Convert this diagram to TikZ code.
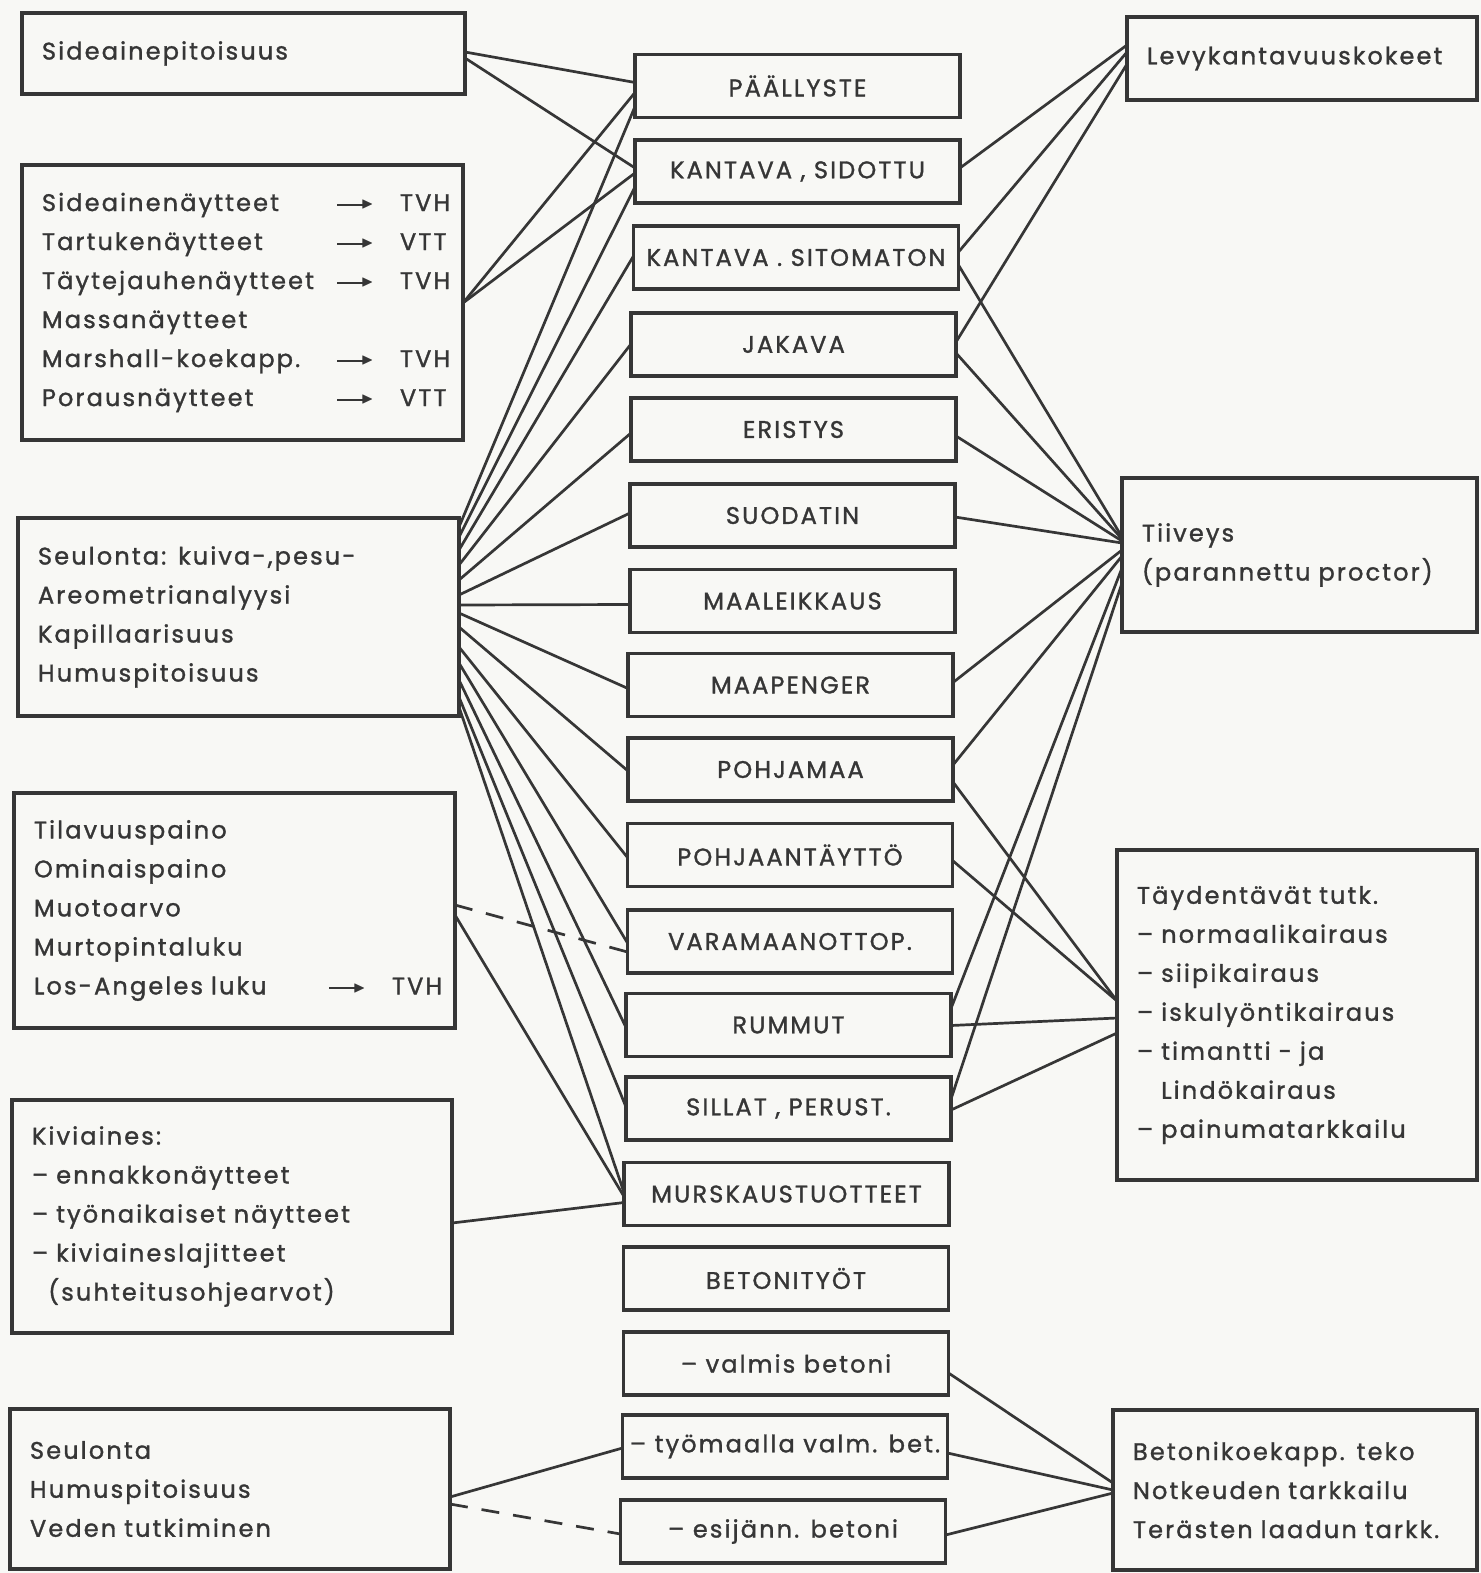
\documentclass[tikz,border=0pt]{standalone}
\usepackage{amssymb}
\usepackage{fontspec}
\setmainfont{Poppins}[LetterSpace=9, FakeBold=1.3]
\usetikzlibrary{calc}
\definecolor{ink}{HTML}{363636}
\definecolor{paper}{HTML}{F8F8F5}
\newcommand\myconn[5][link]{\draw[#1] ($(#2.north east)+(0,#3)$) -- ($(#4.north west)+(0,#5)$);}
\newcommand\tarrow{\raisebox{2.5pt}{\rule{15pt}{1.1pt}}\kern-3pt\raisebox{1.2pt}{\fontsize{8}{8}\selectfont$\blacktriangleright$}}
\newcommand\trow[3]{\makebox[147.5pt][l]{#1}\makebox[31.5pt][l]{#2}#3}
\begin{document}
\begin{tikzpicture}[x=0.5pt,y=-0.5pt,
  box/.style={draw=ink, line width=1.7pt, inner sep=0pt, outer sep=0pt, text=ink,
    font=\fontsize{12}{19.5}\selectfont},
  cbox/.style={box, minimum width=162.5pt, minimum height=31.5pt},
  lbox/.style 2 args={box, align=left, inner xsep=10pt, text width=#1, minimum height=#2},
  link/.style={draw=ink, line width=1.35pt},
  dlink/.style={link, dash pattern=on 9pt off 7pt}]
\useasboundingbox (0,0) rectangle (1481,1573);
\fill[paper] (0,0) rectangle (1481,1573);

% left column
\node[lbox={201.5pt}{40.5pt}] (L1) at (243.5,53.5) {Sideainepitoisuus};
\node[lbox={200.5pt}{137.5pt}] (L2) at (242.5,302.5) {%
\trow{Sideainenäytteet}{\tarrow}{TVH}\\
\trow{Tartukenäytteet}{\tarrow}{VTT}\\
\trow{Täytejauhenäytteet}{\tarrow}{TVH}\\
\trow{Massanäytteet}{}{}\\
\trow{Marshall-koekapp.}{\tarrow}{TVH}\\
\trow{Porausnäytteet}{\tarrow}{VTT}};
\node[lbox={200.5pt}{99pt}] (L3) at (238.5,617) {Seulonta: kuiva-,pesu-\\Areometrianalyysi\\Kapillaarisuus\\Humuspitoisuus};
\node[lbox={200.5pt}{117.5pt}] (L4) at (234.5,910.5) {Tilavuuspaino\\Ominaispaino\\Muotoarvo\\Murtopintaluku\\
\trow{Los-Angeles luku}{\tarrow}{TVH}};
\node[lbox={200pt}{116.5pt}] (L5) at (232,1216.5) {Kiviaines:\\– ennakkonäytteet\\– työnaikaiset näytteet\\– kiviaineslajitteet\\\phantom{–}(suhteitusohjearvot)};
\node[lbox={200pt}{80pt}] (L6) at (230,1489) {Seulonta\\Humuspitoisuus\\Veden tutkiminen};

% centre column
\node[cbox] (C1) at (797.5,86) {PÄÄLLYSTE};
\node[cbox] (C2) at (797.5,171.5) {KANTAVA , SIDOTTU};
\node[cbox] (C3) at (796,257.5) {KANTAVA . SITOMATON};
\node[cbox] (C4) at (793.5,344.5) {JAKAVA};
\node[cbox] (C5) at (793.5,429.5) {ERISTYS};
\node[cbox] (C6) at (792.5,515.5) {SUODATIN};
\node[cbox] (C7) at (792.5,601) {MAALEIKKAUS};
\node[cbox] (C8) at (790.5,685) {MAAPENGER};
\node[cbox] (C9) at (790.5,769.5) {POHJAMAA};
\node[cbox] (C10) at (790,855) {POHJAANTÄYTTÖ};
\node[cbox] (C11) at (790,941.5) {VARAMAANOTTOP.};
\node[cbox] (C12) at (788.5,1025) {RUMMUT};
\node[cbox] (C13) at (788.5,1108.5) {SILLAT , PERUST.};
\node[cbox] (C14) at (786.5,1194) {MURSKAUSTUOTTEET};
\node[cbox] (C15) at (786,1278.5) {BETONITYÖT};
\node[cbox] (C16) at (786,1363.5) {– valmis betoni};
\node[cbox] (C17) at (785,1446.5) {– työmaalla valm. bet.};
\node[cbox] (C18) at (783,1531.5) {– esijänn. betoni};

% right column
\node[lbox={155pt}{41.5pt}] (R1) at (1302,58.5) {Levykantavuuskokeet};
\node[lbox={157.5pt}{77pt}] (R2) at (1299.5,555) {Tiiveys\\(parannettu proctor)};
\node[lbox={160pt}{165pt}] (R3) at (1297,1015) {Täydentävät tutk.\\– normaalikairaus\\– siipikairaus\\– iskulyöntikairaus\\– timantti - ja\\\phantom{– }Lindökairaus\\– painumatarkkailu};
\node[lbox={162pt}{80pt}] (R4) at (1295,1490) {Betonikoekapp. teko\\Notkeuden tarkkailu\\Terästen laadun tarkk.};

% left connectors
\myconn{L1}{39}{C1}{28}
\myconn{L1}{45}{C2}{28}
\myconn{L2}{138}{C1}{38}
\myconn{L2}{138}{C2}{33}
\myconn{L3}{9}{C1}{52}
\myconn{L3}{19}{C2}{47}
\myconn{L3}{32}{C3}{30}
\myconn{L3}{47}{C4}{31}
\myconn{L3}{62}{C5}{35}
\myconn{L3}{77}{C6}{29}
\myconn{L3}{87}{C7}{35}
\myconn{L3}{95}{C8}{35}
\myconn{L3}{109}{C9}{33}
\myconn{L3}{129}{C10}{34}
\myconn{L3}{145}{C11}{33}
\myconn{L3}{162}{C12}{34}
\myconn{L3}{179}{C13}{30}
\myconn{L3}{189}{C14}{30}
\myconn[dlink]{L4}{112}{C11}{42}
\myconn{L4}{122}{C14}{34}
\myconn{L5}{123}{C14}{40}
\myconn{L6}{88}{C17}{33}
\myconn[dlink]{L6}{95}{C18}{34}

% right connectors
\myconn{C2}{28}{R1}{28}
\myconn{C3}{26}{R1}{35}
\myconn{C4}{29}{R1}{47}
\myconn{C3}{39}{R2}{59}
\myconn{C4}{40}{R2}{61}
\myconn{C5}{38}{R2}{63}
\myconn{C6}{33}{R2}{65}
\myconn{C8}{29}{R2}{72}
\myconn{C9}{27}{R2}{78}
\myconn{C12}{15}{R2}{90}
\myconn{C13}{22}{R2}{105}
\myconn{C9}{44}{R3}{151}
\myconn{C10}{37}{R3}{151}
\myconn{C12}{32}{R3}{168}
\myconn{C13}{33}{R3}{183}
\myconn{C16}{41}{R4}{73}
\myconn{C17}{38}{R4}{80}
\myconn{C18}{35}{R4}{83}
\end{tikzpicture}
\end{document}
